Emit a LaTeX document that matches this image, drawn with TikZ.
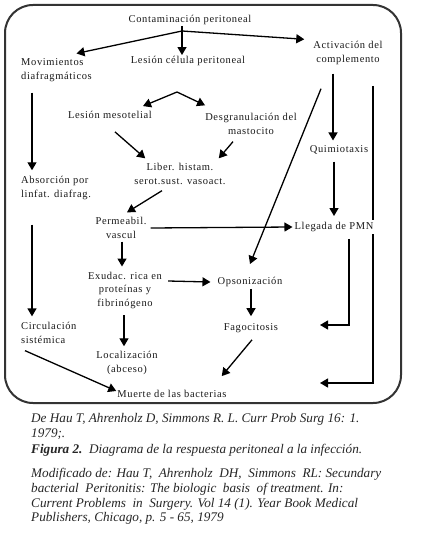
\documentclass[tikz,border=0pt]{standalone}
\usepackage{fontspec}
\setmainfont{Liberation Serif}
\newfontfamily\diafont[LetterSpace=6]{Liberation Serif}
\newfontfamily\capfont{Liberation Serif}
\usetikzlibrary{arrows.meta,calc}
\begin{document}
\begin{tikzpicture}[x=1pt,y=-1pt,
  lbl/.style={font=\diafont\fontsize{10.5}{13.5}\selectfont, inner sep=1pt, text=black!90},
  arr/.style={line width=1.3pt, -{Triangle[length=8pt,width=9pt]}},
  plain/.style={line width=1.3pt},
  capl/.style={font=\capfont\itshape\fontsize{13.2}{14}\selectfont, anchor=base west, inner sep=0pt, text=black!85}]
\useasboundingbox[fill=white] (0,0) rectangle (420,534);
\draw[line width=2pt, draw=black!80, rounded corners=28pt] (5,5) rectangle (401,403);
% nodes
\node[lbl] (cont) at (190,20) {Contaminación peritoneal};
\node[lbl] (lcp) at (188,61) {Lesión célula peritoneal};
\node[lbl,align=left,anchor=west] (mov) at (20,70) {Movimientos\\diafragmáticos};
\node[lbl,align=center] (act) at (348,53) {Activación del\\complemento};
\node[lbl] (lm) at (110,115) {Lesión mesotelial};
\node[lbl,align=center] (desg) at (251,124) {Desgranulación del\\mastocito};
\node[lbl,align=center] (lib) at (180,174) {Liber. histam.\\serot.sust. vasoact.};
\node[lbl,align=left,anchor=west] (abs) at (20,188) {Absorción por\\linfat. diafrag.};
\node[lbl] (quim) at (339,150) {Quimiotaxis};
\node[lbl,align=center] (perm) at (121,228) {Permeabil.\\vascul};
\node[lbl,align=center] (exu) at (125,290) {Exudac. rica en\\proteínas y\\fibrinógeno};
\node[lbl] (ops) at (250,282) {Opsonización};
\node[lbl,align=left,anchor=west] (circ) at (20,333) {Circulación\\sistémica};
\node[lbl] (fag) at (251,328) {Fagocitosis};
\node[lbl,align=center] (loc) at (127,363) {Localización\\(abceso)};
\node[lbl] (muer) at (172,394) {Muerte de las bacterias};
% named free points
\coordinate (f1) at (182,31);
\coordinate (f2) at (177,92);
\coordinate (actR) at (373,86);
\coordinate (muerR) at (320,383);
\coordinate (fagR) at (320,325);
% long line behind Llegada
\draw[arr] (actR) |- (muerR);
\node[lbl,fill=white,inner sep=2pt] (lleg) at (334,227) {Llegada de PMN};
% connectors
\draw[plain] (cont.south -| f1) -- (f1);
\draw[arr] (f1) -- ($(mov.north)+(20,-4)$);
\draw[arr] (f1) -- (lcp.north -| f1);
\draw[arr] (f1) -- ($(act.north west)+(-8,-1)$);
\draw[arr] ($(mov.south west)+(12,10)$) -- ($(abs.north west)+(12,-5)$);
\draw[arr] (f2) -- ($(lm.north)+(33,-4)$);
\draw[arr] (f2) -- ($(desg.north west)+(1,-7)$);
\draw[arr] ($(lm.south)+(5,12)$) -- ($(lib.north west)+(12,-4)$);
\draw[arr] ($(desg.south)+(-18,6)$) -- ($(lib.north east)+(-8,-4)$);
\draw[arr] ($(lib.south)+(-18,5)$) -- ($(perm.north)+(6,-4)$);
\draw[arr] ($(perm.east)+(3,0)$) -- (lleg.west);
\draw[arr] ($(perm.south)+(1,2)$) -- ($(exu.north)+(-3,-4)$);
\draw[arr] ($(abs.south west)+(12,24)$) -- ($(circ.north west)+(12,-5)$);
\draw[arr] ($(circ.south west)+(5,6)$) -- ($(muer.west)+(0,-3)$);
\draw[arr] ($(exu.east)+(5,-9)$) -- ($(ops.west)+(-6,0)$);
\draw[arr] ($(exu.south)+(-1,6)$) -- ($(loc.north)+(-3,-4)$);
\draw[arr] ($(ops.south)+(1,1)$) -- ($(fag.north)+(0,-6)$);
\draw[arr] ($(fag.south)+(1,6)$) -- ($(muer.north east)+(-6,-13)$);
\draw[arr] ($(act.south)+(-15,8)$) -- ($(quim.north)+(-6,-4)$);
\draw[arr] ($(quim.south)+(-5,6)$) -- ($(lleg.north)+(0,-4)$);
\draw[arr] ($(act.south)+(-27,23)$) -- ($(ops.north)+(0,-12)$);
\draw[arr] ($(lleg.south)+(15,5)$) |- (fagR);
% caption
\node[capl] (c1) at (31,422) {De Hau T, Ahrenholz D, Simmons R. L. Curr Prob Surg 16: 1.};
\node[capl] (c2) at (31,437) {1979;.};
\node[capl] (c3) at (31,453) {\textbf{Figura 2.}\ \ Diagrama de la respuesta peritoneal a la infección.};
\node[capl] (c4) at (31,477) {Modificado de: Hau T,\ \ Ahrenholz\ \ DH,\ \ Simmons\ \ RL: Secundary};
\node[capl] (c5) at (31,492) {bacterial\ \ Peritonitis: The biologic\ \ basis\ \ of treatment. In:};
\node[capl] (c6) at (31,507) {Current Problems\ \ in\ \ Surgery. Vol 14 (1). Year Book Medical};
\node[capl] (c7) at (31,521) {Publishers, Chicago, p. 5 - 65, 1979};
\end{tikzpicture}
\end{document}
